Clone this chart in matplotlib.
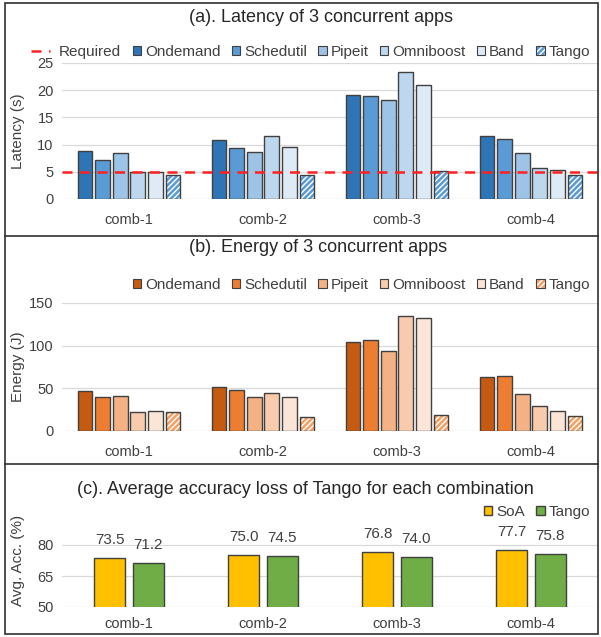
import numpy as np
import matplotlib.pyplot as plt
from matplotlib.lines import Line2D
from matplotlib.patches import Patch, Rectangle

plt.rcParams['font.family'] = ['Liberation Sans', 'DejaVu Sans']
plt.rcParams['hatch.linewidth'] = 1.0

combs = ['comb-1', 'comb-2', 'comb-3', 'comb-4']
methods = ['Ondemand', 'Schedutil', 'Pipeit', 'Omniboost', 'Band', 'Tango']

# latencia (s)
lat_ondemand = [8.9, 10.8, 19.1, 11.5]
lat_schedutil = [7.2, 9.3, 18.9, 11.0]
lat_pipeit = [8.4, 8.7, 18.2, 8.4]
lat_omniboost = [4.9, 11.5, 23.4, 5.7]
lat_band = [5.0, 9.6, 21.0, 5.4]
lat_tango = [4.4, 4.5, 5.1, 4.5]
lat_required = 5

# energia (J)
en_ondemand = [47, 51, 104, 63]
en_schedutil = [40, 48, 107, 64]
en_pipeit = [41, 40, 94, 43]
en_omniboost = [22, 44, 135, 29]
en_band = [24, 40, 132, 24]
en_tango = [22, 16, 19, 17]

# precision media (%)
acc_soa = [73.5, 75.0, 76.8, 77.7]
acc_tango = [71.2, 74.5, 74.0, 75.8]

blues = ['#2E75B6', '#5B9BD5', '#9DC3E6', '#BDD7EE', '#DEEBF7', '#5B9BD5']
oranges = ['#C55A11', '#ED7D31', '#F4B183', '#F8CBAD', '#FBE5D6', '#F4A064']
edge = '#404040'
txt = '#404040'
grid = '#D9D9D9'

W, H = 601, 637
fig = plt.figure(figsize=(6.01, 6.37), dpi=100)


def px_axes(left, right, top_px, bottom_px):
    return fig.add_axes([left / W, 1 - bottom_px / H, (right - left) / W, (bottom_px - top_px) / H])


def style(ax, ylim, yticks, ylabel, xpad=10):
    ax.set_xlim(-0.5, 3.5)
    ax.set_ylim(*ylim)
    ax.set_yticks(yticks)
    ax.set_xticks(range(4))
    ax.set_xticklabels(combs)
    for s in ax.spines.values():
        s.set_visible(False)
    ax.tick_params(length=0, labelsize=10.5, colors=txt, pad=6)
    ax.tick_params(axis='x', pad=xpad)
    ax.grid(axis='y', color=grid, linewidth=0.9)
    ax.set_axisbelow(True)
    ax.set_ylabel(ylabel, fontsize=11, color=txt)
    ax.yaxis.set_label_coords((25 - 62) / 536, 0.5)


def grouped(ax, series, colors):
    x = np.arange(4)
    step, width = 0.131, 0.11
    for i, vals in enumerate(series):
        pos = x + (i - 2.5) * step
        if i == 5:
            ax.bar(pos, vals, width, color=colors[i], edgecolor='white', hatch='//////', linewidth=0)
            ax.bar(pos, vals, width, color='none', edgecolor=edge, linewidth=1.0)
        else:
            ax.bar(pos, vals, width, color=colors[i], edgecolor=edge, linewidth=1.0)


def handles(colors):
    hs = []
    for i, c in enumerate(colors):
        if i == 5:
            hs.append((Patch(facecolor=c, edgecolor='white', hatch='//////', linewidth=0),
                       Patch(facecolor='none', edgecolor=edge, linewidth=0.8)))
        else:
            hs.append(Patch(facecolor=c, edgecolor=edge, linewidth=0.8))
    return hs


leg_kw = dict(frameon=False, fontsize=11, handlelength=0.55, handleheight=0.55,
              handletextpad=0.25, columnspacing=0.75, labelcolor=txt, borderaxespad=0,
              borderpad=0)

# (a) latencia
ax1 = px_axes(62, 598, 63, 199)
grouped(ax1, [lat_ondemand, lat_schedutil, lat_pipeit, lat_omniboost, lat_band, lat_tango], blues)
ax1.axhline(lat_required, color='#FF2020', linestyle=(0, (4, 3)), linewidth=1.8, zorder=5)
style(ax1, (0, 25), [0, 5, 10, 15, 20, 25], 'Latency (s)')
fig.text(321 / W, 1 - 18 / H, '(a). Latency of 3 concurrent apps', ha='center', va='center', fontsize=13, color='#262626')
req = Line2D([], [], color='#FF2020', linestyle=(0, (4, 3)), linewidth=1.8)
fig.legend([req], ['Required'], loc='center left', bbox_to_anchor=(31 / W, 1 - 52 / H),
           **dict(leg_kw, handlelength=1.25, handletextpad=0.55))
fig.legend(handles(blues), methods, loc='center right',
           bbox_to_anchor=(590 / W, 1 - 52 / H), ncol=6, **leg_kw)

# (b) energia
ax2 = px_axes(62, 598, 303, 431)
grouped(ax2, [en_ondemand, en_schedutil, en_pipeit, en_omniboost, en_band, en_tango], oranges)
style(ax2, (0, 150), [0, 50, 100, 150], 'Energy (J)')
fig.text(318 / W, 1 - 247 / H, '(b). Energy of 3 concurrent apps', ha='center', va='center', fontsize=13, color='#262626')
fig.legend(handles(oranges), methods, loc='center right',
           bbox_to_anchor=(590 / W, 1 - 285 / H), ncol=6, **leg_kw)

# (c) precision
ax3 = px_axes(62, 598, 514, 607)
x = np.arange(4)
b1 = ax3.bar(x - 0.145, acc_soa, 0.23, color='#FFC000', edgecolor=edge, linewidth=1.0)
b2 = ax3.bar(x + 0.145, acc_tango, 0.23, color='#70AD47', edgecolor=edge, linewidth=1.0)
for bars in (b1, b2):
    ax3.bar_label(bars, fmt='%.1f', padding=8, fontsize=11, color=txt)
style(ax3, (50, 95), [50, 65, 80], 'Avg. Acc. (%)', xpad=7)
fig.text(305 / W, 1 - 490 / H, '(c). Average accuracy loss of Tango for each combination', ha='center', va='center', fontsize=13, color='#262626')
fig.legend([Patch(facecolor='#FFC000', edgecolor=edge), Patch(facecolor='#70AD47', edgecolor=edge)],
           ['SoA', 'Tango'], loc='center right', bbox_to_anchor=(590 / W, 1 - 512 / H), ncol=2, **leg_kw)

# marco y separadores
fig.patches.append(Rectangle((5 / W, 3 / H), 593 / W, 631 / H, transform=fig.transFigure,
                             fill=False, edgecolor='#303030', linewidth=1.2))
for yp in (236, 464):
    fig.lines.append(Line2D([5 / W, 598 / W], [1 - yp / H, 1 - yp / H], transform=fig.transFigure,
                            color='#303030', linewidth=1.2))

plt.savefig('out.png', dpi=100)
